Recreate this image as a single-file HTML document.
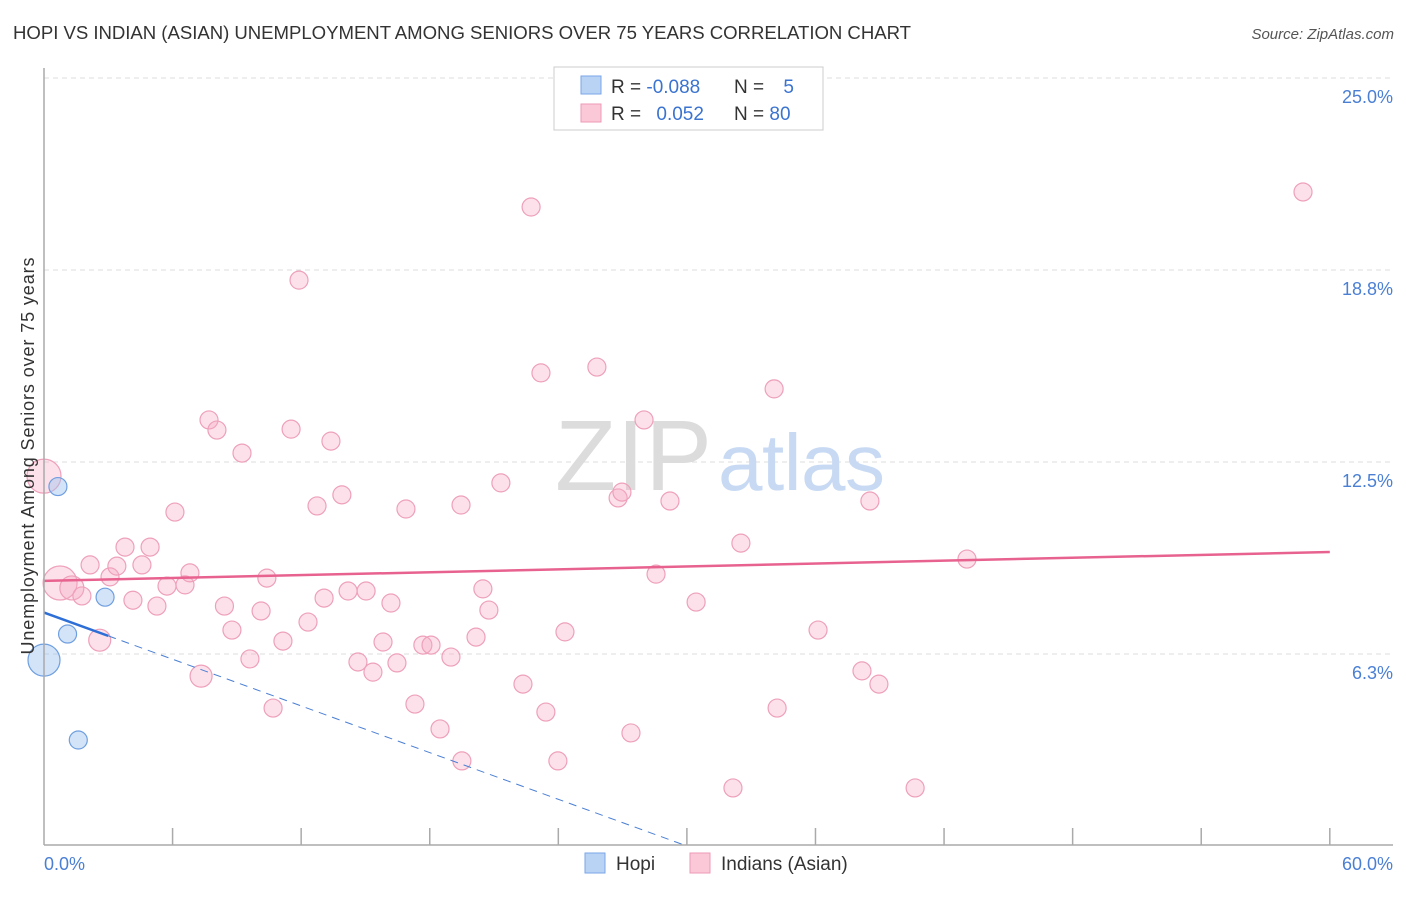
<!DOCTYPE html>
<html><head><meta charset="utf-8"><style>
body{margin:0;background:#fff;font-family:"Liberation Sans",sans-serif;}
svg text{font-family:"Liberation Sans",sans-serif;}
</style></head><body>
<svg id="chart" width="1406" height="892">
<text x="13" y="39" font-size="18.6" fill="#333" textLength="898">HOPI VS INDIAN (ASIAN) UNEMPLOYMENT AMONG SENIORS OVER 75 YEARS CORRELATION CHART</text>
<text x="1394" y="39" font-size="15" fill="#555" text-anchor="end" font-style="italic">Source: ZipAtlas.com</text>
<g id="grid"></g>
<text x="555" y="490" font-size="100" fill="#dcdcdc" textLength="157" font-family="Liberation Serif">ZIP</text>
<text x="718" y="490" font-size="80" fill="#c8daf3" textLength="167">atlas</text>
<g id="marks"></g>
<line x1="44" y1="68" x2="44" y2="845" stroke="#aaa" stroke-width="1.5"/>
<line x1="44" y1="845" x2="1393" y2="845" stroke="#aaa" stroke-width="1.5"/>
<text transform="translate(34,456) rotate(-90)" font-size="18" fill="#333" text-anchor="middle" textLength="397">Unemployment Among Seniors over 75 years</text>
<text x="44" y="870" font-size="18" fill="#4a7fd4">0.0%</text>
<text x="1393" y="870" font-size="18" fill="#4a7fd4" text-anchor="end">60.0%</text>
<g>
<rect x="554" y="67" width="269" height="63" fill="#fff" stroke="#ccc"/>
<rect x="581" y="76" width="20" height="18" fill="#b9d3f5" stroke="#7aa6e6"/>
<rect x="581" y="104" width="20" height="18" fill="#fbc8d8" stroke="#ef9ab6"/>
<text x="611" y="93" font-size="19" fill="#333">R = <tspan fill="#3a73d0">-0.088</tspan></text>
<text x="734" y="93" font-size="19" fill="#333">N = <tspan fill="#3a73d0" dx="14">5</tspan></text>
<text x="611" y="120" font-size="19" fill="#333">R = <tspan fill="#3a73d0" dx="10">0.052</tspan></text>
<text x="734" y="120" font-size="19" fill="#333">N = <tspan fill="#3a73d0">80</tspan></text>
</g>
<g>
<rect x="585" y="853" width="20" height="20" fill="#b9d3f5" stroke="#7aa6e6"/>
<text x="616" y="870" font-size="19" fill="#333">Hopi</text>
<rect x="690" y="853" width="20" height="20" fill="#fbc8d8" stroke="#ef9ab6"/>
<text x="721" y="870" font-size="19" fill="#333">Indians (Asian)</text>
</g>
</svg>
<script>
const yTicks=[6.25,12.5,18.75,25];
const yTickLabels=["6.3%","12.5%","18.8%","25.0%"];
const xTicks=[6,12,18,24,30,36,42,48,54,60];
const hopiX=[0.65,1.1,2.85,1.6,0];
const hopiY=[11.7,6.9,8.1,3.45,6.05];
const hopiR=[9,9,9,9,16];
const hopiLine=[7.6,6.84];
const hopiLineX=[0,3];
const hopiDashEndX=30;
const indX=[0,0.75,1.3,1.77,2.6,2.15,3.08,3.4,3.78,4.57,4.95,4.15,5.27,5.74,6.11,6.58,6.81,7.33,7.7,8.07,8.42,8.77,9.24,9.61,10.13,10.4,10.69,11.15,11.53,11.9,12.32,12.74,13.07,13.39,13.9,14.19,14.65,15.03,15.35,15.82,16.19,16.47,16.89,17.31,17.68,18.06,18.48,18.99,19.46,19.5,20.16,20.48,20.76,21.32,22.35,22.73,23.19,23.42,23.98,24.31,25.8,26.79,26.97,27.39,28,28.56,29.21,30.43,32.15,32.52,34.07,34.21,36.12,38.17,38.54,38.96,40.65,43.07,58.75];
const indY=[12.04,8.56,8.4,8.14,6.7,9.15,8.76,9.11,9.73,9.15,9.73,8.0,7.81,8.46,10.87,8.5,8.89,5.53,13.87,13.54,7.81,7.03,12.79,6.09,7.65,8.72,4.49,6.67,13.57,18.42,7.29,11.07,8.07,13.18,11.43,8.3,5.99,8.3,5.66,6.64,7.91,5.96,10.97,4.62,6.54,6.54,3.81,6.15,11.1,2.77,6.8,8.37,7.68,11.82,5.27,20.8,15.4,4.36,2.77,6.97,15.59,11.33,11.52,3.68,13.87,8.85,11.23,7.94,1.89,9.86,14.88,4.49,7.03,5.7,11.23,5.27,1.89,9.34,21.29];
const indLine=[8.63,9.57];
const indLineX=[0,60];
const X=v=>44+v*21.43, Y=v=>846-v*30.72;
const NS="http://www.w3.org/2000/svg";
const grid=document.getElementById('grid'), marks=document.getElementById('marks');
function mk(tag,attrs,parent){const e=document.createElementNS(NS,tag);for(const k in attrs)e.setAttribute(k,attrs[k]);parent.appendChild(e);return e;}
yTicks.forEach((t,i)=>{
 const l=mk('line',{x1:44,x2:1393,y1:Y(t),y2:Y(t),stroke:'#ddd','stroke-dasharray':'5,4'},grid);
 
 
 const tx=mk('text',{x:1393,y:Y(t)+25,'font-size':18,fill:'#4a7fd4','text-anchor':'end'},grid);
 tx.textContent=yTickLabels[i];
 
 
});
xTicks.forEach(t=>{
 const l=mk('line',{x1:X(t),x2:X(t),y1:828,y2:845,stroke:'#aaa','stroke-width':1.5},grid);
 
 
});
indX.forEach((v,i)=>{
 const r=(i<2)?17:(i==2?12:(i==4||i==17?11:9));
 const c=mk('circle',{cx:X(v),cy:Y(indY[i]),r:r,fill:'rgba(246,170,195,0.35)',stroke:'#eea0ba','stroke-width':1.2},marks);
 
 
});
hopiX.forEach((v,i)=>{
 const c=mk('circle',{cx:X(v),cy:Y(hopiY[i]),r:hopiR[i],fill:'rgba(160,195,240,0.45)',stroke:'#6f9fe0','stroke-width':1.2},marks);
 
 
});
const il=mk('line',{x1:X(indLineX[0]),y1:Y(indLine[0]),x2:X(indLineX[1]),y2:Y(indLine[1]),stroke:'#e8628f','stroke-width':2.5},marks);


const slope=(hopiLine[1]-hopiLine[0])/(hopiLineX[1]-hopiLineX[0]);
const hd=mk('line',{x1:X(hopiLineX[1]),y1:Y(hopiLine[1]),x2:X(hopiDashEndX),y2:Y(hopiLine[0]+slope*hopiDashEndX),stroke:'#4a7fd4','stroke-width':1,'stroke-dasharray':'8,6'},marks);


const hl=mk('line',{x1:X(hopiLineX[0]),y1:Y(hopiLine[0]),x2:X(hopiLineX[1]),y2:Y(hopiLine[1]),stroke:'#2d6fd6','stroke-width':2.5},marks);


</script>
</body></html>
